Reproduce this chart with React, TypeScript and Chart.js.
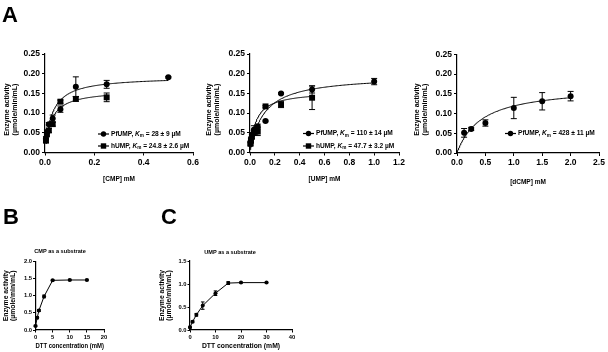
import React, { useEffect, useRef } from 'react';
import { Chart, registerables } from 'chart.js';

Chart.register(...registerables);

const FONT = "'Liberation Sans', Arial, Helvetica, sans-serif";
Chart.defaults.font.family = FONT;
Chart.defaults.color = '#000';

// ---- Panel A: kinetics with CMP ----
const cmpPfConc = [0.0039, 0.0078, 0.0156, 0.03125, 0.0625, 0.125, 0.25, 0.5];
const cmpPfActivity = [0.036, 0.052, 0.072, 0.086, 0.11, 0.167, 0.173, 0.191];
const cmpPfSem = [0.004, 0.005, 0.004, 0.009, 0.008, 0.025, 0.01, 0.002];
const cmpHConc = [0.0039, 0.0078, 0.0156, 0.03125, 0.0625, 0.125, 0.25];
const cmpHActivity = [0.03, 0.046, 0.056, 0.072, 0.129, 0.136, 0.14];
const cmpHSem = [0.004, 0.004, 0.005, 0.005, 0.004, 0.006, 0.011];
const cmpPfKm = 28;
const cmpPfKmErr = 9;
const cmpPfVmax = 0.193;
const cmpHKm = 24.8;
const cmpHKmErr = 2.6;
const cmpHVmax = 0.159;

// ---- Panel A: kinetics with UMP ----
const umpPfConc = [0.0039, 0.0078, 0.0156, 0.03125, 0.0625, 0.125, 0.25, 0.5, 1.0];
const umpPfActivity = [0.025, 0.034, 0.045, 0.058, 0.066, 0.08, 0.15, 0.16, 0.18];
const umpPfSem = [0.004, 0.005, 0.005, 0.01, 0.006, 0.002, 0.002, 0.009, 0.008];
const umpHConc = [0.0039, 0.0078, 0.0156, 0.03125, 0.0625, 0.125, 0.25, 0.5];
const umpHActivity = [0.022, 0.03, 0.04, 0.05, 0.053, 0.117, 0.122, 0.139];
const umpHSem = [0.004, 0.005, 0.005, 0.006, 0.01, 0.002, 0.008, 0.03];
const umpPfKm = 110;
const umpPfKmErr = 14;
const umpPfVmax = 0.196;
const umpHKm = 47.7;
const umpHKmErr = 3.2;
const umpHVmax = 0.156;

// ---- Panel A: kinetics with dCMP ----
const dcmpPfConc = [0.125, 0.25, 0.5, 1.0, 1.5, 2.0];
const dcmpPfActivity = [0.051, 0.061, 0.076, 0.114, 0.131, 0.144];
const dcmpPfSem = [0.011, 0.004, 0.008, 0.027, 0.022, 0.012];
const dcmpPfKm = 428;
const dcmpPfKmErr = 11;
const dcmpPfVmax = 0.17;

// ---- Panels B and C: DTT dependence ----
const dttCmpConc = [0, 0.5, 1, 2.5, 5, 10, 15];
const dttCmpActivity = [0.12, 0.36, 0.57, 0.98, 1.45, 1.46, 1.46];
const dttCmpSem = [0.02, 0.03, 0.03, 0.04, 0.02, 0.02, 0.02];
const dttUmpConc = [0, 1, 2.5, 5, 10, 15, 20, 30];
const dttUmpActivity = [0.06, 0.18, 0.33, 0.53, 0.8, 1.02, 1.03, 1.03];
const dttUmpSem = [0.02, 0.02, 0.03, 0.08, 0.05, 0.03, 0.01, 0.01];

const activityTitle = ['Enzyme activity', '(µmole/min/mL)'];

const toPoints = (xs: number[], ys: number[]) => xs.map((x, i) => ({ x, y: ys[i] }));

// Michaelis–Menten fit line, Km given in µM and substrate in mM
function mmCurve(kmMicro: number, vmax: number, from: number, to: number) {
  const km = kmMicro / 1000;
  const pts: { x: number; y: number }[] = [];
  const n = 160;
  for (let i = 0; i <= n; i++) {
    const t = i / n;
    const x = from + (to - from) * t * t;
    pts.push({ x, y: (vmax * x) / (km + x) });
  }
  return pts;
}

const errorBars = {
  id: 'errorBars',
  afterDatasetsDraw(chart: any) {
    const { ctx } = chart;
    const yScale = chart.scales.y;
    chart.data.datasets.forEach((ds: any, i: number) => {
      if (!ds.errors) return;
      const meta = chart.getDatasetMeta(i);
      ctx.save();
      ctx.strokeStyle = '#000';
      ctx.lineWidth = 1;
      meta.data.forEach((el: any, j: number) => {
        const e = ds.errors[j];
        if (!e) return;
        const v = ds.data[j].y;
        const yt = yScale.getPixelForValue(v + e);
        const yb = yScale.getPixelForValue(v - e);
        const x = el.x;
        const c = ds.capWidth;
        ctx.beginPath();
        ctx.moveTo(x, yt);
        ctx.lineTo(x, yb);
        ctx.moveTo(x - c, yt);
        ctx.lineTo(x + c, yt);
        ctx.moveTo(x - c, yb);
        ctx.lineTo(x + c, yb);
        ctx.stroke();
      });
      ctx.restore();
    });
  },
};

// Legend rows of the form  —●—  PfUMP, Km = 28 ± 9 µM, plus free-standing captions
const panelText = {
  id: 'panelText',
  afterDraw(chart: any, _args: any, opts: any) {
    const ctx = chart.ctx;
    (opts.items || []).forEach((it: any) => {
      const size = opts.size;
      const sw = opts.symbolWidth;
      ctx.save();
      ctx.strokeStyle = '#000';
      ctx.fillStyle = '#000';
      ctx.lineWidth = 1.2;
      ctx.beginPath();
      ctx.moveTo(it.x, it.y);
      ctx.lineTo(it.x + sw, it.y);
      ctx.stroke();
      const cx = it.x + sw / 2;
      if (it.marker === 'circle') {
        ctx.beginPath();
        ctx.arc(cx, it.y, opts.markerRadius, 0, Math.PI * 2);
        ctx.fill();
      } else {
        const s = opts.markerRadius;
        ctx.fillRect(cx - s, it.y - s, 2 * s, 2 * s);
      }
      let x = it.x + sw + opts.gap;
      ctx.textBaseline = 'middle';
      ctx.textAlign = 'left';
      const parts = [
        { t: it.name + ', ', f: `bold ${size}px ${FONT}`, dy: 0 },
        { t: 'K', f: `italic bold ${size}px ${FONT}`, dy: 0 },
        { t: 'm', f: `bold ${size * 0.7}px ${FONT}`, dy: size * 0.3 },
        { t: ` = ${it.km} ± ${it.kmErr} µM`, f: `bold ${size}px ${FONT}`, dy: 0 },
      ];
      parts.forEach((p) => {
        ctx.font = p.f;
        ctx.fillText(p.t, x, it.y + p.dy);
        x += ctx.measureText(p.t).width;
      });
      ctx.restore();
    });
    (opts.captions || []).forEach((c: any) => {
      ctx.save();
      ctx.fillStyle = '#000';
      ctx.font = `bold ${c.size}px ${FONT}`;
      ctx.textAlign = 'center';
      ctx.textBaseline = 'middle';
      ctx.translate(c.x, c.y);
      if (c.vertical) ctx.rotate(-Math.PI / 2);
      const lines: string[] = Array.isArray(c.text) ? c.text : [c.text];
      lines.forEach((line, k) => ctx.fillText(line, 0, k * (c.lineGap || 0)));
      ctx.restore();
    });
  },
};

type Box = { left: number; right: number; top: number; bottom: number };

function axis(o: any) {
  return {
    type: 'linear',
    min: 0,
    max: o.max,
    ticks: {
      stepSize: o.step,
      autoSkip: false,
      maxRotation: 0,
      padding: o.tickPad,
      color: '#000',
      font: { size: o.tickSize, weight: 'bold' },
      callback: (v: any) => Number(v).toFixed(o.decimals),
    },
    grid: {
      display: true,
      drawOnChartArea: false,
      drawTicks: true,
      tickLength: o.tickLen,
      color: '#000',
      lineWidth: 1,
    },
    border: { display: true, color: '#000', width: 1.2 },
    title: {
      display: !!o.title,
      text: o.title || '',
      color: '#000',
      padding: 0,
      font: { size: o.titleSize, weight: 'bold', lineHeight: o.titleLine },
    },
    afterFit: (scale: any) => {
      if (o.horizontal) scale.height = o.size;
      else scale.width = o.size;
      scale.paddingLeft = 0;
      scale.paddingRight = 0;
      scale.paddingTop = 0;
      scale.paddingBottom = 0;
    },
  };
}

function markerSet(xs: number[], ys: number[], errs: number[], style: string, cap: number, radius: number, line: boolean) {
  return {
    data: toPoints(xs, ys),
    errors: errs,
    capWidth: cap,
    showLine: line,
    borderColor: '#000',
    borderWidth: 1,
    backgroundColor: '#000',
    pointStyle: style,
    pointRadius: radius,
    pointBackgroundColor: '#000',
    pointBorderColor: '#000',
    pointBorderWidth: 0,
    tension: 0,
    clip: false,
  };
}

function curveSet(pts: { x: number; y: number }[]) {
  return {
    data: pts,
    showLine: true,
    borderColor: '#000',
    borderWidth: 1,
    pointRadius: 0,
    tension: 0,
    clip: false,
  };
}

function buildConfig(p: any) {
  const box: Box = p.box;
  return {
    type: 'scatter',
    data: { datasets: p.datasets },
    options: {
      animation: false,
      responsive: false,
      devicePixelRatio: 1,
      events: [],
      layout: {
        padding: {
          left: box.left - p.yWidth,
          top: box.top,
          right: 608 - box.right,
          bottom: 352 - box.bottom - p.xHeight,
        },
      },
      plugins: {
        legend: { display: false },
        tooltip: { enabled: false },
        panelText: p.text,
      },
      scales: {
        x: axis({ ...p.x, horizontal: true, size: p.xHeight }),
        y: axis({ ...p.y, horizontal: false, size: p.yWidth }),
      },
    },
    plugins: [errorBars, panelText],
  };
}

// Activity axis of the kinetic plots; its two-line title is placed as a caption
const kineticY = { max: 0.25, step: 0.05, decimals: 2, tickPad: 2, tickLen: 3, tickSize: 8.5 };
const kineticLegend = { size: 6.6, symbolWidth: 11, gap: 2, markerRadius: 2.7 };
const kineticYTitle = (x: number) => ({ text: activityTitle, x, y: 109.5, size: 7, vertical: true, lineGap: 8 });

const panels: any[] = [
  {
    box: { left: 45, right: 193, top: 54, bottom: 152.5 },
    yWidth: 42,
    xHeight: 31,
    x: { max: 0.6, step: 0.2, decimals: 1, tickPad: 2, tickLen: 3, tickSize: 8.5, title: '[CMP] mM', titleSize: 6.5, titleLine: 1.2 },
    y: kineticY,
    datasets: [
      markerSet(cmpPfConc, cmpPfActivity, cmpPfSem, 'circle', 3, 3, false),
      markerSet(cmpHConc, cmpHActivity, cmpHSem, 'rect', 3, 4.2, false),
      curveSet(mmCurve(cmpPfKm, cmpPfVmax, cmpPfConc[0], cmpPfConc[cmpPfConc.length - 1])),
      curveSet(mmCurve(cmpHKm, cmpHVmax, cmpHConc[0], cmpHConc[cmpHConc.length - 1])),
    ],
    text: {
      ...kineticLegend,
      items: [
        { x: 98, y: 134, marker: 'circle', name: 'PfUMP', km: cmpPfKm, kmErr: cmpPfKmErr },
        { x: 98, y: 146, marker: 'rect', name: 'hUMP', km: cmpHKm, kmErr: cmpHKmErr },
      ],
      captions: [kineticYTitle(7)],
    },
  },
  {
    box: { left: 250, right: 399, top: 54, bottom: 152.5 },
    yWidth: 45,
    xHeight: 31,
    x: { max: 1.2, step: 0.2, decimals: 1, tickPad: 2, tickLen: 3, tickSize: 8.5, title: '[UMP] mM', titleSize: 6.5, titleLine: 1.2 },
    y: kineticY,
    datasets: [
      markerSet(umpPfConc, umpPfActivity, umpPfSem, 'circle', 3, 3, false),
      markerSet(umpHConc, umpHActivity, umpHSem, 'rect', 3, 4.2, false),
      curveSet(mmCurve(umpPfKm, umpPfVmax, umpPfConc[0], umpPfConc[umpPfConc.length - 1])),
      curveSet(mmCurve(umpHKm, umpHVmax, umpHConc[0], umpHConc[umpHConc.length - 1])),
    ],
    text: {
      ...kineticLegend,
      items: [
        { x: 303, y: 133.5, marker: 'circle', name: 'PfUMP', km: umpPfKm, kmErr: umpPfKmErr },
        { x: 303, y: 146, marker: 'rect', name: 'hUMP', km: umpHKm, kmErr: umpHKmErr },
      ],
      captions: [kineticYTitle(209)],
    },
  },
  {
    box: { left: 457, right: 599, top: 54.3, bottom: 153 },
    yWidth: 44,
    xHeight: 33,
    x: { max: 2.5, step: 0.5, decimals: 1, tickPad: 2, tickLen: 3, tickSize: 8.5, title: '[dCMP] mM', titleSize: 6.5, titleLine: 1.2 },
    y: kineticY,
    datasets: [
      markerSet(dcmpPfConc, dcmpPfActivity, dcmpPfSem, 'circle', 3, 3, false),
      curveSet(mmCurve(dcmpPfKm, dcmpPfVmax, 0, dcmpPfConc[dcmpPfConc.length - 1])),
    ],
    text: {
      ...kineticLegend,
      items: [{ x: 505, y: 133.5, marker: 'circle', name: 'PfUMP', km: dcmpPfKm, kmErr: dcmpPfKmErr }],
      captions: [kineticYTitle(417)],
    },
  },
  {
    box: { left: 35.5, right: 104, top: 261.5, bottom: 330 },
    yWidth: 33.3,
    xHeight: 20,
    x: { max: 20, step: 5, decimals: 0, tickPad: 1, tickLen: 2.5, tickSize: 5.8, title: 'DTT concentration (mM)', titleSize: 6.8, titleLine: 1.2 },
    y: { max: 2.0, step: 0.5, decimals: 1, tickPad: 1, tickLen: 2.5, tickSize: 5.8, title: activityTitle, titleSize: 6.8, titleLine: 1.1 },
    datasets: [markerSet(dttCmpConc, dttCmpActivity, dttCmpSem, 'circle', 1.8, 2, true)],
    text: { captions: [{ text: 'CMP as a substrate', x: 60, y: 251, size: 5.6 }] },
  },
  {
    box: { left: 190, right: 292, top: 261, bottom: 330 },
    yWidth: 31.9,
    xHeight: 20,
    x: { max: 40, step: 10, decimals: 0, tickPad: 1, tickLen: 2.5, tickSize: 5.8, title: 'DTT concentration (mM)', titleSize: 6.8, titleLine: 1.2 },
    y: { max: 1.5, step: 0.5, decimals: 1, tickPad: 1, tickLen: 2.5, tickSize: 5.8, title: activityTitle, titleSize: 6.8, titleLine: 1.1 },
    datasets: [markerSet(dttUmpConc, dttUmpActivity, dttUmpSem, 'circle', 1.8, 2, true)],
    text: { captions: [{ text: 'UMP as a substrate', x: 230, y: 252, size: 5.6 }] },
  },
];

function Panel({ spec }: { spec: any }) {
  const ref = useRef<HTMLCanvasElement | null>(null);
  useEffect(() => {
    if (!ref.current) return;
    const chart = new Chart(ref.current, buildConfig(spec) as any);
    return () => chart.destroy();
  }, [spec]);
  return (
    <canvas
      ref={ref}
      width={608}
      height={352}
      style={{ position: 'absolute', left: 0, top: 0, width: 608, height: 352 }}
    />
  );
}

const letterStyle: React.CSSProperties = {
  position: 'absolute',
  fontFamily: FONT,
  fontWeight: 'bold',
  fontSize: 22,
  lineHeight: '22px',
  color: '#000',
};

export default function App() {
  return (
    <div
      style={{
        position: 'absolute',
        left: 0,
        top: 0,
        width: 608,
        height: 352,
        background: '#fff',
        overflow: 'hidden',
      }}
    >
      {panels.map((p, i) => (
        <Panel key={i} spec={p} />
      ))}
      <div style={{ ...letterStyle, left: 2, top: 4 }}>A</div>
      <div style={{ ...letterStyle, left: 3, top: 206 }}>B</div>
      <div style={{ ...letterStyle, left: 161, top: 206 }}>C</div>
    </div>
  );
}
